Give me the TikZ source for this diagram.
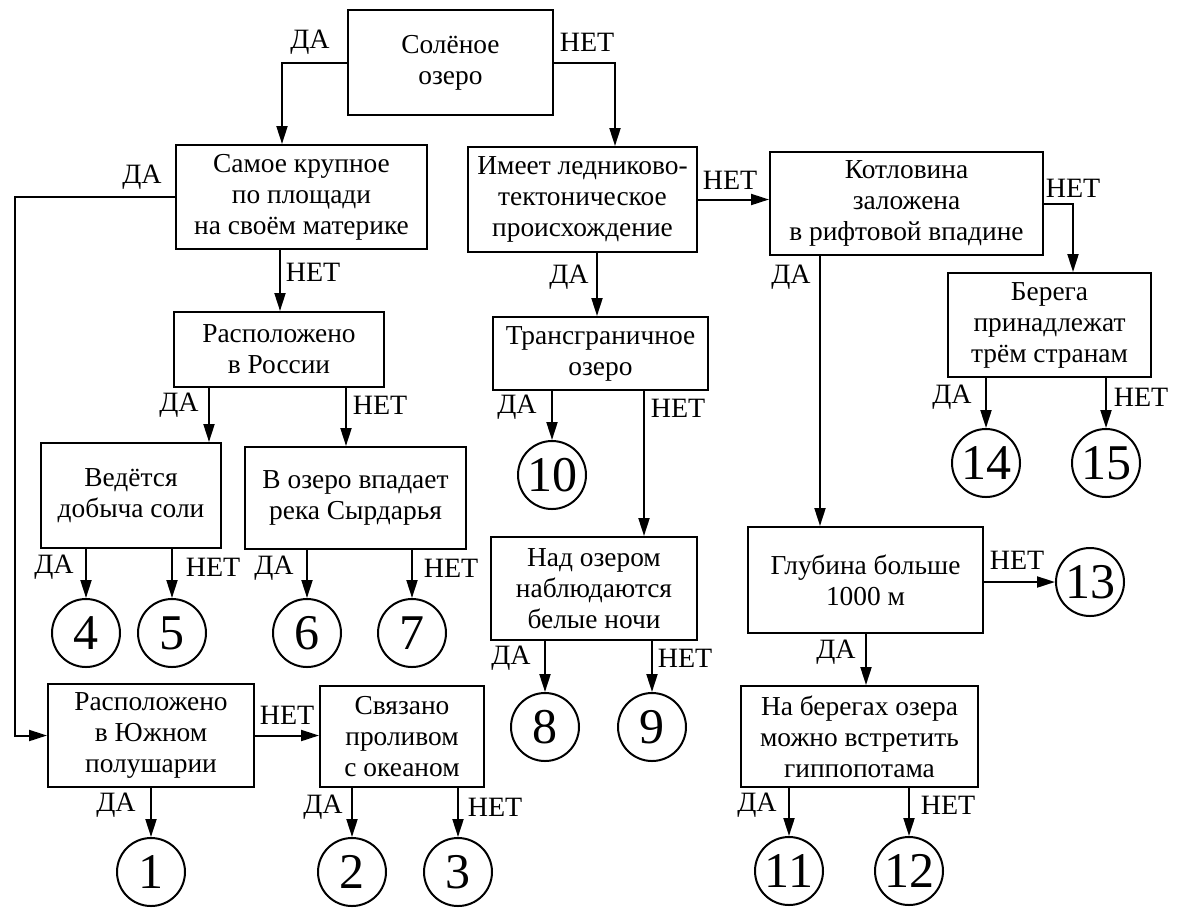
\documentclass[tikz,border=0pt]{standalone}
\usepackage{fontspec}
\setmainfont{Liberation Serif}
\usetikzlibrary{arrows.meta}

\begin{document}
\begin{tikzpicture}[x=0.5pt, y=-0.5pt,
  quest/.style={draw, line width=1pt, align=center, inner sep=2pt,
    font=\fontsize{13.7}{15.5}\selectfont},
  leaf/.style={draw, circle, line width=1pt, minimum size=34pt, inner sep=0pt,
    font=\fontsize{25}{25}\selectfont},
  ans/.style={inner sep=0pt, font=\fontsize{14}{14}\selectfont},
  arr/.style={-{Triangle[length=9pt,width=5.5pt]}, line width=1pt}]

  \useasboundingbox (0,0) rectangle (1183,907);

  % Define nodes
  \node[quest, minimum width=102.5pt, minimum height=52.5pt] (salty)    at (450.5,62.5) {Солёное\\озеро};
  \node[quest, minimum width=125.5pt, minimum height=52pt]   (biggest)  at (301.5,197)  {Самое крупное\\по площади\\на своём материке};
  \node[quest, minimum width=114.5pt, minimum height=52.5pt] (glacial)  at (582.5,199.5) {Имеет ледниково-\\тектоническое\\происхождение};
  \node[quest, minimum width=136.5pt, minimum height=51.5pt] (rift)     at (906.5,203.5) {Котловина\\заложена\\в рифтовой впадине};
  \node[quest, minimum width=101.5pt, minimum height=52pt]   (shores)   at (1049.5,325) {Берега\\принадлежат\\трём странам};
  \node[quest, minimum width=105pt,   minimum height=37.5pt] (russia)   at (279,349.5)  {Расположено\\в России};
  \node[quest, minimum width=90pt,    minimum height=52.5pt] (salt)     at (131,495.5)  {Ведётся\\добыча соли};
  \node[quest, minimum width=110.5pt, minimum height=51pt]   (syrdarya) at (355.5,498)  {В озеро впадает\\река Сырдарья};
  \node[quest, minimum width=107.5pt, minimum height=36.5pt] (border)   at (600.5,353.5) {Трансграничное\\озеро};
  \node[quest, minimum width=103pt,   minimum height=51.5pt] (nights)   at (594,588.5)  {Над озером\\наблюдаются\\белые ночи};
  \node[quest, minimum width=117.5pt, minimum height=53pt]   (depth)    at (865.5,580)  {Глубина больше\\1000 м};
  \node[quest, minimum width=118.5pt, minimum height=50.5pt] (hippo)    at (859.5,736.5) {На берегах озера\\можно встретить\\гиппопотама};
  \node[quest, minimum width=103pt,   minimum height=51.5pt] (south)    at (151,735.5)  {Расположено\\в Южном\\полушарии};
  \node[quest, minimum width=82pt,    minimum height=50.5pt] (ocean)    at (402,736.5)  {Связано\\проливом\\с океаном};

  % Answers
  \foreach \n/\x/\y in {1/151/872, 2/352/872, 3/458/872, 4/86/633, 5/172/633,
      6/307/633, 7/412/633, 8/545/727, 9/652/727, 10/552/475, 11/789/871,
      12/909/871, 13/1090/582, 14/986/463, 15/1106/463}
    \node[leaf] (o\n) at (\x,\y) {\n};

  % Connect the nodes
  \draw[arr] (salty.west) -| (282,0 |- biggest.north);
  \draw[arr] (salty.east) -| (615,0 |- glacial.north);
  \draw[arr] (biggest.west) -| (15,0 |- south.west) -- (south.west);
  \draw[arr] (280,0 |- biggest.south) -- (280,0 |- russia.north);
  \draw[arr] (glacial.east) -- (glacial.east -| rift.west);
  \draw[arr] (597,0 |- glacial.south) -- (597,0 |- border.north);
  \draw[arr] (rift.east) -| (1073,0 |- shores.north);
  \draw[arr] (820,0 |- rift.south) -- (820,0 |- depth.north);
  \draw[arr] (209,0 |- russia.south) -- (209,0 |- salt.north);
  \draw[arr] (346,0 |- russia.south) -- (346,0 |- syrdarya.north);
  \draw[arr] (644,0 |- border.south) -- (644,0 |- nights.north);
  \draw[arr] (866,0 |- depth.south) -- (866,0 |- hippo.north);
  \draw[arr] (depth.east |- o13) -- (o13);
  \draw[arr] (south.east) -- (south.east -| ocean.west);
  \foreach \q/\o in {shores/o14, shores/o15, salt/o4, salt/o5, syrdarya/o6,
      syrdarya/o7, border/o10, nights/o8, nights/o9, hippo/o11, hippo/o12,
      south/o1, ocean/o2, ocean/o3}
    \draw[arr] (\o |- \q.south) -- (\o);

  % Labels
  \node[ans] (da1)  at (310,42)   {ДА};
  \node[ans] (net1) at (587,42)   {НЕТ};
  \node[ans] (da2)  at (142,177)  {ДА};
  \node[ans] (net2) at (313,272)  {НЕТ};
  \node[ans] (net3) at (730,180)  {НЕТ};
  \node[ans] (da3)  at (569,277)  {ДА};
  \node[ans] (net4) at (1073,188) {НЕТ};
  \node[ans] (da4)  at (791,277)  {ДА};
  \node[ans] (da5)  at (952,397)  {ДА};
  \node[ans] (net5) at (1141,397) {НЕТ};
  \node[ans] (da6)  at (179,405)  {ДА};
  \node[ans] (net6) at (380,405)  {НЕТ};
  \node[ans] (da7)  at (54,567)   {ДА};
  \node[ans] (net7) at (213,567)  {НЕТ};
  \node[ans] (da8)  at (274,568)  {ДА};
  \node[ans] (net8) at (451,568)  {НЕТ};
  \node[ans] (da9)  at (517,407)  {ДА};
  \node[ans] (net9) at (678,408)  {НЕТ};
  \node[ans] (da10) at (511,658)  {ДА};
  \node[ans] (net10) at (685,658) {НЕТ};
  \node[ans] (net11) at (1017,560) {НЕТ};
  \node[ans] (da11) at (836,652)  {ДА};
  \node[ans] (da12) at (757,805)  {ДА};
  \node[ans] (net12) at (948,805) {НЕТ};
  \node[ans] (net13) at (287,715) {НЕТ};
  \node[ans] (da13) at (116,805)  {ДА};
  \node[ans] (da14) at (323,807)  {ДА};
  \node[ans] (net14) at (495,807) {НЕТ};

\end{tikzpicture}
\end{document}
